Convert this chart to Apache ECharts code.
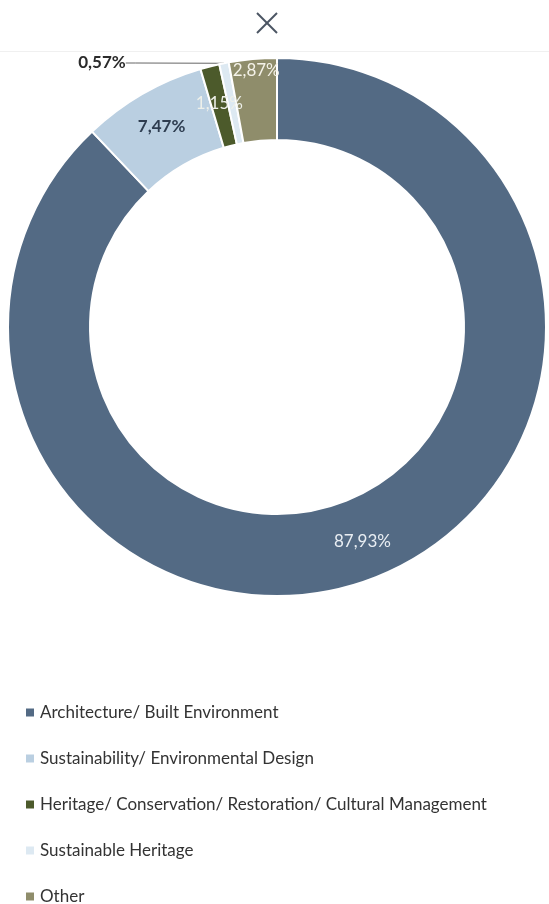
<!DOCTYPE html>
<html>
<head>
<meta charset="utf-8">
<script src="https://cdn.jsdelivr.net/npm/echarts@6/dist/echarts.min.js"></script>
<style>
  html, body { margin: 0; padding: 0; background: #ffffff; }
  #chart { width: 549px; height: 904px; }
</style>
</head>
<body>
<div id="chart"></div>
<script>
// Share of programmes by field (percent)
const categories = [
  'Architecture/ Built Environment',
  'Sustainability/ Environmental Design',
  'Heritage/ Conservation/ Restoration/ Cultural Management',
  'Sustainable Heritage',
  'Other'
];
const shares = [87.93, 7.47, 1.15, 0.57, 2.87];
const colors = ['#536a84', '#bacfe1', '#4c5a2b', '#dde9f2', '#8f8d6b'];
const labelColors = ['#e9eef3', '#2e3d50', '#eef0ea', '#2b2b2b', '#f4f2e8'];

const fmt = v => v.toFixed(2).replace('.', ',') + '%';

const data = categories.map((name, i) => {
  const item = {
    name: name,
    value: shares[i],
    itemStyle: { color: colors[i] },
    label: {
      color: labelColors[i],
      fontWeight: i === 1 || i === 3 ? 'bold' : 'normal'
    }
  };
  if (i === 3) {
    item.label.position = 'outside';
    item.labelLine = { show: true, length: 10, length2: 10, lineStyle: { color: '#666', width: 1 } };
  } else {
    item.labelLine = { show: false };
  }
  return item;
});

const chart = echarts.init(document.getElementById('chart'), null, { renderer: 'canvas' });

chart.setOption({
  animation: false,
  backgroundColor: '#ffffff',
  graphic: [
    // close button
    { type: 'line', shape: { x1: 257, y1: 13, x2: 277, y2: 33 }, style: { stroke: '#4b5563', lineWidth: 2 } },
    { type: 'line', shape: { x1: 277, y1: 13, x2: 257, y2: 33 }, style: { stroke: '#4b5563', lineWidth: 2 } },
    // header separator
    { type: 'rect', shape: { x: 0, y: 51, width: 549, height: 1 }, style: { fill: '#f0f0f0' } }
  ],
  legend: {
    orient: 'vertical',
    left: 19,
    top: 699,
    height: 240,
    itemWidth: 10,
    itemHeight: 10,
    itemGap: 29,
    icon: 'rect',
    textStyle: { fontFamily: 'Lato', fontSize: 17, color: '#333333' },
    data: categories
  },
  series: [{
    type: 'pie',
    center: [277, 327],
    radius: [187, 269],
    startAngle: 90,
    clockwise: true,
    avoidLabelOverlap: false,
    itemStyle: { borderColor: '#ffffff', borderWidth: 2 },
    label: {
      show: true,
      position: 'inside',
      fontFamily: 'Lato',
      fontSize: 17,
      formatter: p => fmt(p.value)
    },
    labelLayout: function (params) {
      if (params.dataIndex === 4) return { dy: -26 };
      if (params.dataIndex === 3) return { x: 102, y: 63, align: 'center', verticalAlign: 'middle' };
      return {};
    },
    data: data
  }]
});
</script>
</body>
</html>
